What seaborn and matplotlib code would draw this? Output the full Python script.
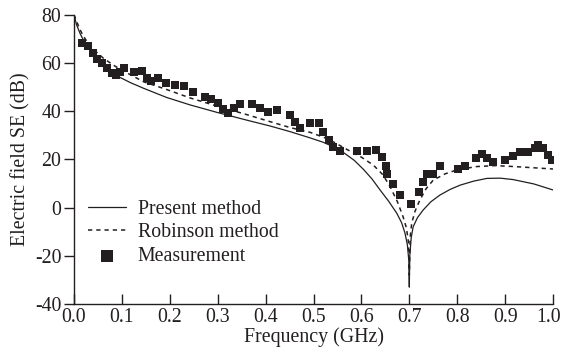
import numpy as np
import pandas as pd
import seaborn as sns
import matplotlib
matplotlib.use("Agg")
import matplotlib.pyplot as plt
from matplotlib.transforms import ScaledTranslation

# ---- data ----
present_freq = [0.0, 0.005, 0.0125, 0.022, 0.033, 0.046, 0.061, 0.076, 0.093, 0.118, 0.145, 0.193,
                0.242, 0.30, 0.36, 0.41, 0.451, 0.493, 0.520, 0.545, 0.562, 0.585, 0.604, 0.622,
                0.639, 0.657, 0.674, 0.684, 0.691, 0.696, 0.699, 0.700, 0.701, 0.704, 0.708,
                0.717, 0.729, 0.745, 0.764, 0.785, 0.806, 0.835, 0.862, 0.89, 0.917, 0.96, 1.0]
present_se = [80, 76, 72.3, 68.5, 65.4, 61.8, 58.4, 56.2, 54.3, 51.8, 49.5, 45.7,
              42.6, 39.4, 36.3, 33.8, 31.5, 28.9, 27.1, 24.9, 22.9, 19.6, 15.9, 11.9,
              7.3, 2.6, -2.4, -6.3, -10.6, -15.5, -22, -33, -20, -12.5, -8,
              -4.2, -1, 2.4, 5.2, 7.5, 9.3, 11.0, 12.1, 12.2, 11.6, 9.8, 7.3]

robinson_freq = [0.0, 0.006, 0.012, 0.02, 0.03, 0.045, 0.061, 0.086, 0.115, 0.145, 0.193,
                 0.242, 0.30, 0.36, 0.41, 0.451, 0.493, 0.53, 0.569, 0.60, 0.625, 0.645,
                 0.66, 0.675, 0.687, 0.694, 0.698, 0.700, 0.702, 0.705, 0.712, 0.722,
                 0.735, 0.75, 0.775, 0.799, 0.84, 0.88, 0.92, 0.96, 1.0]
robinson_se = [80, 77, 74, 71, 68, 64.8, 62, 58.6, 55.4, 52.2, 49,
               45.5, 42, 38.6, 35.6, 33.2, 31.2, 28.5, 24.2, 20.9, 17.6, 13.6,
               8.6, 2.5, -3.8, -8.5, -14, -28, -12, -6.5, -1.5, 3.1,
               7.8, 11.4, 14.0, 15.6, 17.0, 17.4, 17.0, 16.5, 16.0]

meas_freq = [0.017, 0.030, 0.040, 0.049, 0.058, 0.068, 0.079, 0.087, 0.095, 0.105, 0.125,
             0.143, 0.153, 0.160, 0.176, 0.192, 0.211, 0.230, 0.248, 0.273, 0.287, 0.301,
             0.312, 0.322, 0.333, 0.347, 0.371, 0.388, 0.406, 0.423, 0.451, 0.461, 0.472,
             0.493, 0.512, 0.519, 0.533, 0.541, 0.555, 0.590, 0.611, 0.630, 0.644, 0.651,
             0.654, 0.667, 0.681, 0.703, 0.721, 0.729, 0.736, 0.750, 0.765, 0.802, 0.816,
             0.839, 0.851, 0.862, 0.874, 0.900, 0.917, 0.931, 0.948, 0.962, 0.969, 0.980,
             0.989, 0.997]
meas_se = [68.1, 67.0, 64.2, 61.5, 59.8, 57.8, 56.0, 55.0, 56.4, 57.8, 56.4,
           56.6, 53.6, 52.5, 53.6, 51.8, 50.8, 50.4, 47.8, 46.0, 44.9, 43.2,
           40.7, 39.1, 41.2, 43.0, 43.0, 41.2, 39.8, 40.5, 38.4, 35.6, 33.2,
           35.2, 35.2, 31.5, 28.0, 25.2, 23.5, 23.6, 23.6, 23.9, 21.1, 17.4,
           14.0, 9.8, 5.2, 1.3, 6.5, 10.7, 13.8, 13.8, 17.1, 15.9, 17.2,
           20.4, 22.1, 20.4, 19.0, 19.7, 21.5, 23.2, 23.2, 24.6, 26.0, 24.6,
           21.8, 19.7]

x_ticks = [0.0, 0.1, 0.2, 0.3, 0.4, 0.5, 0.6, 0.7, 0.8, 0.9, 1.0]
y_ticks = [-40, -20, 0, 20, 40, 60, 80]

sns.set_style("ticks")
plt.rcParams["font.family"] = "serif"
plt.rcParams["font.serif"] = ["Liberation Serif", "DejaVu Serif"]

FS = 14.3
fig = plt.figure(figsize=(5.63, 3.64), dpi=100)
ax = fig.add_axes([74 / 563, 1 - 304 / 364, (553 - 74) / 563, (304 - 14.7) / 364])

df_p = pd.DataFrame({"f": present_freq, "se": present_se})
df_r = pd.DataFrame({"f": robinson_freq, "se": robinson_se})
df_m = pd.DataFrame({"f": meas_freq, "se": meas_se})

ink = "#231f20"
sns.lineplot(data=df_p, x="f", y="se", ax=ax, color=ink, lw=0.9, sort=False,
             label="Present method", estimator=None)
sns.lineplot(data=df_r, x="f", y="se", ax=ax, color=ink, lw=1.1, sort=False,
             label="Robinson method", estimator=None, linestyle=(0, (2.8, 2.6)))
sns.scatterplot(data=df_m, x="f", y="se", ax=ax, color=ink, marker="s", s=36,
                edgecolor=ink, linewidth=0, label="Measurement", zorder=3)

ax.set_xlim(0, 1.0)
ax.set_ylim(-40, 80)
ax.set_xticks(x_ticks)
ax.set_xticklabels([f"{t:.1f}" for t in x_ticks])
ax.set_yticks(y_ticks)
ax.set_yticklabels([str(t) for t in y_ticks])
ax.tick_params(axis="x", direction="in", length=7, width=1, labelsize=FS, colors=ink, pad=3)
ax.tick_params(axis="y", direction="out", length=7, width=1, labelsize=FS, colors=ink, pad=2)
for s in ["top", "right"]:
    ax.spines[s].set_visible(False)
for s in ["left", "bottom"]:
    ax.spines[s].set_linewidth(1)
    ax.spines[s].set_color(ink)
ax.set_xlabel("Frequency (GHz)", fontsize=FS, color=ink, labelpad=0)
ax.set_ylabel("Electric field SE (dB)", fontsize=FS, color=ink, labelpad=3)

# shift the last x tick label slightly left so it stays inside the figure
last = ax.get_xticklabels()[-1]
last.set_transform(last.get_transform() + ScaledTranslation(-4 / 100, 0, fig.dpi_scale_trans))

leg = ax.legend(loc="upper left", bbox_to_anchor=(88 / 563, 1 - 200 / 364),
                bbox_transform=fig.transFigure, frameon=False, fontsize=FS,
                handlelength=1.9, handletextpad=0.6, labelspacing=0.22,
                borderpad=0, borderaxespad=0, markerscale=1.55)
for t in leg.get_texts():
    t.set_color(ink)

fig.savefig("out.png", dpi=100)
